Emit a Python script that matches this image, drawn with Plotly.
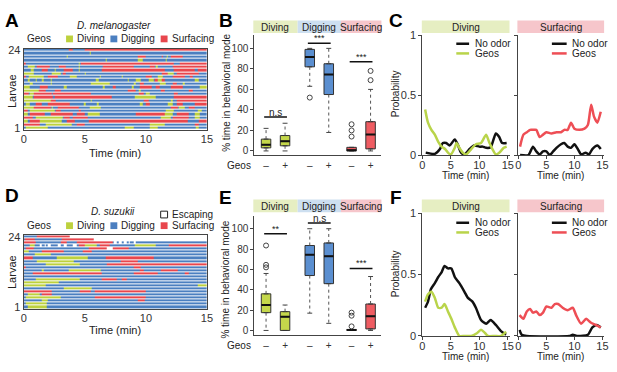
import plotly.graph_objects as go
import numpy as np

W, H = 617, 372
def fx(p): return p / W
def fy(p): return 1 - p / H

FONT = "Arial, Liberation Sans, sans-serif"
TXT = "#222222"
BLUE = "#4b7fc0"; GREEN = "#bdd13d"; RED = "#e8464d"
BOXG = "#c4d74b"; BOXB = "#5b8fd0"; BOXR = "#ef5c62"
HDRG = "#e6eec2"; HDRB = "#cddff0"; HDRR = "#f6c6cb"
LGREEN = "#b9d44a"; LRED = "#ee4e55"

# ---------------- raster data (segments of non-digging modes; rows top=24 to bottom=1)
mel_rows = [
 [("R",3.7,4.0),("R",5.0,15)],
 [("G",5.4,5.5)],
 [("G",3.5,3.6),("R",9.3,10.0),("R",11.3,11.4),("G",11.7,11.8),("R",12.0,13.0)],
 [("G",6.7,6.8),("G",9.3,9.7),("G",11.6,11.7)],
 [("R",0,0.2),("G",4.5,4.6),("R",4.7,12.3),("R",12.8,15)],
 [("G",0.3,0.9),("R",1.1,2.1),("R",2.9,3.4),("G",4.5,4.6),("R",6.5,9.0),("R",10.3,10.7),("G",10.8,11.0),("R",12.2,15)],
 [("G",0.6,0.8),("R",1.5,2.0),("G",2.5,2.6),("R",3.3,4.0),("G",4.5,4.6),("R",6.4,11.5),("R",12.3,14.0),("R",14.2,15)],
 [("G",0,0.8),("G",2.3,3.0),("R",3.2,3.4),("G",5.0,5.1),("R",11.3,12.0),("G",11.8,12.3),("R",12.5,14.3)],
 [("R",0,0.2),("G",0.4,1.6),("R",2.0,2.8),("G",3.8,4.3),("G",6.2,6.3),("G",8.0,8.1),("R",10.0,10.5),("G",11.0,11.4),("R",12.2,13.2),("R",13.6,13.8)],
 [("G",0.3,0.5),("G",1.0,1.1),("G",1.5,1.6),("G",2.2,2.3),("G",5.9,6.1),("G",8.5,8.6),("G",9.2,9.6),("G",10.2,10.6),("R",10.7,11.5),("G",11.0,11.3),("G",14.0,14.3)],
 [("G",0.5,0.7),("G",2.2,2.3),("G",5.5,7.0),("G",9.0,9.2),("R",9.5,9.8),("G",11.1,11.6),("R",12.2,12.5),("G",13.0,13.2)],
 [("G",0,0.5),("R",1.3,2.0),("G",3.3,3.5),("G",6.5,6.6),("R",7.3,7.5),("G",8.8,9.0),("R",9.5,10.5),("R",10.8,11.1),("R",12.0,13.0),("G",14.4,15)],
 [("G",0,1.2),("R",1.2,1.8),("R",2.5,3.0),("R",8.5,9.2),("G",9.4,9.6),("R",11.2,11.5),("R",13.5,13.8)],
 [("R",0,0.4),("G",0.5,0.8),("R",0.8,2.3),("R",2.4,5.5),("R",9.4,9.8),("G",10.0,10.3),("R",12.3,12.6)],
 [("G",0,0.7),("R",0.8,2.4),("R",2.5,7.2),("G",9.1,10.8),("R",12.3,15)],
 [("G",0,2.2),("R",2.2,2.6),("G",5.5,5.6),("R",9.8,10.2),("G",12.0,12.2),("R",12.5,15)],
 [("G",0.2,0.5),("R",1.0,1.5),("R",2.0,3.8),("G",4.9,5.1),("G",6.0,6.1),("G",9.5,9.7),("R",10.0,10.3),("G",11.8,12.2),("R",12.5,13.0),("R",14.0,15)],
 [("G",0,0.8),("R",0.8,2.2),("G",2.3,2.4),("R",2.8,4.5),("G",5.4,6.3),("R",12.0,12.6),("G",12.7,13.2),("R",13.5,14.0)],
 [("R",0,0.3),("G",0.5,2.5),("R",2.6,3.0),("R",4.5,4.7),("G",11.6,12.3),("G",14.2,14.6)],
 [("G",0,0.3),("R",0.5,1.7),("R",2.2,4.0),("R",4.3,5.0),("G",5.2,6.2),("R",9.2,11.5),("G",11.5,12.2),("R",12.5,13.5),("G",14.0,14.4)],
 [("R",0,0.7),("G",1.0,3.2),("R",3.3,3.8),("R",4.0,5.2),("G",11.2,12.0),("R",12.2,13.5),("G",14.0,14.4)],
 [("G",0,0.3),("R",0.5,1.3),("G",1.3,3.1),("R",3.5,4.2),("R",5.3,13.4),("R",14.3,15)],
 [("R",0,1.3),("G",1.8,3.9),("R",4.3,5.0),("G",10.3,11.5),("R",14.0,14.3)],
 [("G",0.2,2.0),("G",8.3,9.0),("G",10.3,11.0),("G",14.1,14.3)],
]
suz_rows = [
 [("R",1.1,3.8),("W",3.8,15)],
 [("R",0.1,0.9),("R",3.1,5.7),("W",5.7,15)],
 [("R",0,1.0),("R",3.0,3.5),("R",4.3,7.3),("W",7.4,7.6),("W",7.8,8.0),("W",8.2,8.4),("W",8.6,8.7),("W",9.0,9.2)],
 [("G",0.5,0.9),("W",1.3,1.5),("W",1.7,1.8),("W",2.0,2.2),("W",2.8,3.0),("W",3.3,3.5),("W",4.0,4.3),("R",4.5,5.0),("G",5.0,6.0),("R",6.2,7.0),("G",9.1,10.8),("R",11.9,15)],
 [("R",0.2,0.8),("R",5.3,6.8),("W",6.8,7.3),("R",7.3,8.6)],
 [("G",0,0.4),("R",1.5,3.3),("R",4.8,5.6)],
 [("G",0.9,2.2)],
 [("R",0,0.7),("G",2.7,5.2),("R",6.7,10.6)],
 [("G",1.1,4.1),("R",7.9,9.3)],
 [("G",1.8,4.6),("R",6.8,15)],
 [("R",0,0.2),("R",9.0,9.6)],
 [("G",1.5,1.6),("G",3.7,6.3),("R",9.5,9.8),("R",11.2,12.6)],
 [("R",0.7,6.4),("R",9.0,11.0),("R",13.2,13.5)],
 [],
 [("G",1.0,4.6),("R",6.4,7.6),("R",8.0,8.4)],
 [("G",0,2.9)],
 [("G",0,1.8),("G",14.2,15)],
 [("G",3.3,5.6)],
 [("R",0,2.3),("R",4.6,5.5),("R",5.8,10.0)],
 [("G",0.3,1.3),("R",1.5,2.3)],
 [("G",0.2,3.0),("R",5.8,10.0)],
 [("G",1.5,2.0),("R",9.3,9.9)],
 [("G",0.2,1.9)],
 [("G",0.3,1.9)],
]
MODE_CODE = {"G": 1, "R": 2, "W": 3}

# ---------------- box-plot data (order: Diving -,+ ; Digging -,+ ; Surfacing -,+)
box_pos = [1, 2, 3.3, 4.3, 5.5, 6.5]
box_ticktext = ["\u2013", "+", "\u2013", "+", "\u2013", "+"]
mel_q1 = [3, 5, 82, 55, 0, 2]
mel_med = [6, 9.5, 91.5, 74.5, 0.6, 16]
mel_q3 = [11.5, 15, 99, 85, 3.5, 28.5]
mel_lo = [0, 0, 63, 18, 0, 0]
mel_hi = [22, 27, 100, 100, 3.5, 60]
mel_out = [[], [], [52], [], [14, 20, 26], [69, 78]]
mel_sig = [(0, 1, 33, "n.s"), (2, 3, 105, "***"), (4, 5, 87, "***")]

suz_q1 = [17.5, 0, 54, 46, 0, 1.5]
suz_med = [25, 13.5, 74.5, 73, 0.5, 14]
suz_q3 = [36, 18.5, 83.5, 86, 1, 26]
suz_lo = [0, 0, 17, 7, 0, 0]
suz_hi = [56, 25, 100, 100, 1, 53]
suz_out = [[62, 64.5, 83.5], [], [], [], [4, 14.5, 17.5], []]
suz_sig = [(0, 1, 95, "**"), (2, 3, 105.5, "n.s"), (4, 5, 61, "***")]

# ---------------- probability time courses
c_div_t_no = [0.6,2.2,3.1,3.6,4.2,4.8,5.7,6.2,6.8,7.4,8.3,9.1,10.0,10.6,11.2,12.0,12.9,13.5,14.0,14.8]
c_div_no = [0.02,0.01,0.05,0.10,0.10,0.08,0.13,0.09,0.02,0.005,0.05,0.08,0.07,0.07,0.06,0.065,0.18,0.15,0.10,0.10]
c_div_t_geo = [0.5,1.0,1.6,2.2,2.8,3.4,4.0,4.5,5.0,5.7,6.0,6.5,7.1,7.7,8.6,9.4,10.3,11.2,11.7,12.3,12.9,13.5,14.3,14.8]
c_div_geo = [0.38,0.27,0.21,0.17,0.11,0.07,0.05,0.02,0.005,0.06,0.10,0.06,0.02,0.005,0.05,0.09,0.10,0.17,0.11,0.05,0.005,0.02,0.06,0.07]
c_sur_t_no = [0.3,1.8,2.6,3.2,3.8,4.4,5.0,5.6,6.2,6.8,7.6,8.2,8.8,9.4,10.0,10.6,11.2,12.0,12.6,13.2,14.1,14.7]
c_sur_no = [0,0,0.07,0.03,0.005,0.03,0.03,0,0.03,0.06,0.09,0.10,0.07,0.06,0.09,0.05,0.005,0.02,0.005,0.05,0.08,0.05]
c_sur_t_geo = [0.3,0.9,1.5,2.1,2.6,3.2,3.8,4.4,5.0,5.9,6.8,7.6,8.2,8.8,9.4,10.0,10.9,11.8,12.4,13.0,13.5,14.1,14.7]
c_sur_geo = [0.07,0.17,0.19,0.21,0.21,0.21,0.15,0.17,0.19,0.18,0.19,0.19,0.21,0.21,0.27,0.22,0.21,0.22,0.25,0.42,0.32,0.27,0.36]

f_div_t_no = [0.5,1.0,1.5,2.2,2.8,3.4,3.9,4.5,5.1,5.7,6.5,7.4,8.0,8.8,9.4,10.3,11.2,12.0,12.9,13.8,14.7]
f_div_no = [0.23,0.28,0.38,0.43,0.48,0.52,0.57,0.55,0.55,0.48,0.43,0.36,0.31,0.28,0.23,0.13,0.10,0.13,0.09,0.04,0.01]
f_div_t_geo = [0.5,1.0,1.6,2.2,2.8,3.4,3.9,4.5,5.1,5.7,6.5,7.4,8.6,9.5,10.3,10.9,11.5,12.7,13.8,14.7]
f_div_geo = [0.28,0.34,0.36,0.31,0.23,0.23,0.26,0.20,0.14,0.07,0,0,0,0.02,0.05,0.03,0,0,0,0.035]
f_sur_t_no = [0.2,0.6,1.5,9.1,9.7,10.6,12.4,13.2,14.0,14.7]
f_sur_no = [0.05,0.01,0,0,0.01,0,0.01,0.07,0.09,0.07]
f_sur_t_geo = [0.2,0.9,1.5,2.1,2.6,3.2,3.8,4.4,5.0,5.9,6.5,7.1,7.9,8.8,9.7,10.3,11.2,12.1,12.9,13.8,14.7]
f_sur_geo = [0.17,0.14,0.20,0.22,0.19,0.20,0.17,0.19,0.24,0.23,0.26,0.26,0.23,0.21,0.23,0.17,0.10,0.14,0.11,0.09,0.07]

time_ticks = [0, 5, 10, 15]

fig = go.Figure()

# ---------------- rasters
BIN = 0.1
centers = np.arange(BIN / 2, 15, BIN)
def raster_z(rows):
    z = []
    for segs in reversed(rows):  # larva 1 first
        r = np.zeros(len(centers))
        for m, a, b in segs:
            r[(centers >= a) & (centers < b)] = MODE_CODE[m]
        z.append(r)
    return np.array(z)

cs = [[0, BLUE], [1/6, BLUE], [1/6, GREEN], [0.5, GREEN], [0.5, RED], [5/6, RED], [5/6, "#ffffff"], [1, "#ffffff"]]
for rows, xa, ya in [(mel_rows, "x", "y"), (suz_rows, "x5", "y5")]:
    fig.add_trace(go.Heatmap(z=raster_z(rows), x=centers, y=list(range(1, 25)), zmin=0, zmax=3,
                             colorscale=cs, showscale=False, ygap=1, hoverinfo="skip",
                             xaxis=xa, yaxis=ya))

# ---------------- box plots
def add_boxes(q1, med, q3, lo, hi, outs, sig, xa, ya):
    fills = [BOXG, BOXG, BOXB, BOXB, BOXR, BOXR]
    wx, wy, cx, cy = [], [], [], []
    for i, p in enumerate(box_pos):
        if hi[i] > q3[i]:
            wx += [p, p, None]; wy += [q3[i], hi[i], None]
            cx += [p - 0.13, p + 0.13, None]; cy += [hi[i], hi[i], None]
        if lo[i] < q1[i]:
            wx += [p, p, None]; wy += [q1[i], lo[i], None]
            cx += [p - 0.13, p + 0.13, None]; cy += [lo[i], lo[i], None]
    fig.add_trace(go.Scatter(x=wx, y=wy, mode="lines", line=dict(color="#555", width=1, dash="dot"),
                             hoverinfo="skip", showlegend=False, xaxis=xa, yaxis=ya))
    fig.add_trace(go.Scatter(x=cx, y=cy, mode="lines", line=dict(color="#444", width=1),
                             hoverinfo="skip", showlegend=False, xaxis=xa, yaxis=ya))
    for i, p in enumerate(box_pos):
        fig.add_trace(go.Box(x=[p], q1=[q1[i]], median=[med[i]], q3=[q3[i]], lowerfence=[q1[i]],
                             upperfence=[q3[i]], fillcolor=fills[i], line=dict(color="#333", width=1),
                             width=0.5, boxpoints=False, showlegend=False, hoverinfo="skip",
                             xaxis=xa, yaxis=ya))
    mx, my = [], []
    for i, p in enumerate(box_pos):
        mx += [p - 0.25, p + 0.25, None]; my += [med[i], med[i], None]
    fig.add_trace(go.Scatter(x=mx, y=my, mode="lines", line=dict(color="#111", width=2),
                             hoverinfo="skip", showlegend=False, xaxis=xa, yaxis=ya))
    ox, oy = [], []
    for i, p in enumerate(box_pos):
        ox += [p] * len(outs[i]); oy += outs[i]
    fig.add_trace(go.Scatter(x=ox, y=oy, mode="markers",
                             marker=dict(symbol="circle-open", size=5, color="#444", line=dict(width=1)),
                             hoverinfo="skip", showlegend=False, xaxis=xa, yaxis=ya))
    sx, sy = [], []
    for a, b, yv, t in sig:
        sx += [box_pos[a] - 0.1, box_pos[b] + 0.1, None]; sy += [yv, yv, None]
        fig.add_annotation(x=(box_pos[a] + box_pos[b]) / 2, y=yv, xref=xa, yref=ya, text=t,
                           showarrow=False, yanchor="bottom",
                           font=dict(size=10 if t == "n.s" else 9, color=TXT, family=FONT),
                           yshift=-3 if t == "n.s" else -2)
    fig.add_trace(go.Scatter(x=sx, y=sy, mode="lines", line=dict(color="#111", width=1.5),
                             hoverinfo="skip", showlegend=False, xaxis=xa, yaxis=ya))

add_boxes(mel_q1, mel_med, mel_q3, mel_lo, mel_hi, mel_out, mel_sig, "x2", "y2")
add_boxes(suz_q1, suz_med, suz_q3, suz_lo, suz_hi, suz_out, suz_sig, "x6", "y6")

# ---------------- probability lines
def line(t, v, color, xa, ya):
    fig.add_trace(go.Scatter(x=t, y=v, mode="lines", line=dict(color=color, width=2.5, shape="spline", smoothing=0.6),
                             hoverinfo="skip", showlegend=False, xaxis=xa, yaxis=ya, cliponaxis=False))

line(c_div_t_no, c_div_no, "#111", "x3", "y3")
line(c_div_t_geo, c_div_geo, LGREEN, "x3", "y3")
line(c_sur_t_no, c_sur_no, "#111", "x4", "y4")
line(c_sur_t_geo, c_sur_geo, LRED, "x4", "y4")
line(f_div_t_no, f_div_no, "#111", "x7", "y7")
line(f_div_t_geo, f_div_geo, LGREEN, "x7", "y7")
line(f_sur_t_no, f_sur_no, "#111", "x8", "y8")
line(f_sur_t_geo, f_sur_geo, LRED, "x8", "y8")

# ---------------- axes
base = dict(showgrid=False, zeroline=False, showline=True, linecolor="#444", linewidth=1,
            ticks="outside", ticklen=3, tickcolor="#444", tickfont=dict(size=10, color="#333", family=FONT))
lay = {}
def ax(name, dom, **kw):
    d = dict(base); d.update(kw); d["domain"] = dom
    lay[name] = d

F11 = dict(size=11, color="#333", family=FONT)
# A / D rasters
ax("xaxis", [fx(21), fx(207)], range=[0, 15], tickvals=time_ticks, anchor="y", mirror=True, ticks="",
   tickfont=F11, ticklabelstandoff=-1)
ax("yaxis", [fy(128), fy(44)], range=[0.5, 24.5], tickvals=[1, 24], ticks="", anchor="x", mirror=True, tickfont=F11)
ax("xaxis5", [fx(21), fx(207)], range=[0, 15], tickvals=time_ticks, anchor="y5", mirror=True, ticks="",
   tickfont=F11, ticklabelstandoff=-1)
ax("yaxis5", [fy(313), fy(237)], range=[0.5, 24.5], tickvals=[1, 24], ticks="", anchor="x5", mirror=True, tickfont=F11)
# B / E boxes
ax("xaxis2", [fx(255), fx(384)], range=[0.38, 7.07], tickvals=box_pos, ticktext=box_ticktext, anchor="y2", ticks="",
   ticklabelstandoff=1)
ax("yaxis2", [fy(154), fy(30)], range=[-4, 113], tickvals=[0, 20, 40, 60, 80, 100], anchor="x2")
ax("xaxis6", [fx(255), fx(384)], range=[0.38, 7.07], tickvals=box_pos, ticktext=box_ticktext, anchor="y6", ticks="",
   ticklabelstandoff=1)
ax("yaxis6", [fy(340), fy(217)], range=[-4.5, 112.5], tickvals=[0, 20, 40, 60, 80, 100], anchor="x6")
# C / F lines
for xn, yn, xd, yd, lab in [("xaxis3", "yaxis3", [425.5, 514], [154, 30], True),
                            ("xaxis4", "yaxis4", [523, 610], [154, 30], False),
                            ("xaxis7", "yaxis7", [425.5, 514], [341, 214], True),
                            ("xaxis8", "yaxis8", [523, 610], [341, 214], False)]:
    ax(xn, [fx(xd[0]), fx(xd[1])], range=[0, 15.3], tickvals=time_ticks, anchor=yn.replace("axis", ""),
       tickfont=F11, ticklabelstandoff=-3)
    ax(yn, [fy(yd[0]), fy(yd[1])], range=[0, 1], tickvals=[0, 0.5, 1], ticktext=["0", "0.5", "1"],
       showticklabels=lab, anchor=xn.replace("axis", ""), tickfont=F11)

fig.update_layout(width=W, height=H, margin=dict(l=0, r=0, t=0, b=0), paper_bgcolor="white",
                  plot_bgcolor="rgba(0,0,0,0)", showlegend=False,
                  font=dict(family=FONT, size=10, color=TXT), **lay)

# ---------------- decorations (text, headers, legends)
def rect(x0, x1, y0, y1, fill, line=None):
    fig.add_shape(type="rect", xref="paper", yref="paper", x0=fx(x0), x1=fx(x1), y0=fy(y1), y1=fy(y0),
                  fillcolor=fill, line=dict(width=1 if line else 0, color=line or fill), layer="above")
def seg(x0, x1, y, color):
    fig.add_shape(type="line", xref="paper", yref="paper", x0=fx(x0), x1=fx(x1), y0=fy(y), y1=fy(y),
                  line=dict(color=color, width=2.5))
def txt(s, x, y, size=10, xanchor="center", angle=0, color=TXT, bold=False, italic=False):
    if bold: s = "<b>" + s + "</b>"
    if italic: s = "<i>" + s + "</i>"
    fig.add_annotation(text=s, x=fx(x), y=fy(y), xref="paper", yref="paper", showarrow=False,
                       xanchor=xanchor, yanchor="middle", textangle=angle,
                       font=dict(size=size, color=color, family=FONT))

# panel letters
for L, x, y in [("A", 9, 15), ("B", 226, 15), ("C", 399, 15), ("D", 9, 196), ("E", 226, 198), ("F", 399, 198)]:
    txt(L, x, y, size=19, bold=True, color="#000000")

txt("D. melanogaster", 113, 20, size=10, italic=True)
def mode_legend(y):
    txt("Geos", 22, y, xanchor="left")
    rect(64, 71, y - 3.5, y + 3.5, GREEN); txt("Diving", 73, y, xanchor="left")
    rect(109, 116, y - 3.5, y + 3.5, BLUE); txt("Digging", 118, y, xanchor="left")
    rect(160, 167, y - 3.5, y + 3.5, RED); txt("Surfacing", 169, y, xanchor="left")
mode_legend(34)
txt("Larvae", 9, 88, size=11, angle=-90)
txt("Time (min)", 114, 152, size=11)
txt("D. suzukii", 112, 212, size=10, italic=True)
rect(160, 167, 212, 219, "#ffffff", line="#222"); txt("Escaping", 169, 215, xanchor="left")
mode_legend(227)
txt("Larvae", 9, 275, size=11, angle=-90)
txt("Time (min)", 114, 335, size=11)

for y0, y1 in [(15, 28), (200, 213)]:
    for a, b, c, s in [(254, 299, HDRG, "Diving"), (299, 343, HDRB, "Digging"), (343, 384, HDRR, "Surfacing")]:
        rect(a, b, y0, y1, c); txt(s, (a + b) / 2, (y0 + y1) / 2 + 0.5, size=10)
txt("% time in behavioral mode", 226, 90, size=10, angle=-90)
txt("% time in behavioral mode", 226, 283, size=10, angle=-90)
txt("Geos", 240, 165, size=10)
txt("Geos", 240, 351, size=10)

for y0, y1 in [(15, 28), (200, 213)]:
    rect(425, 514, y0, y1, HDRG); txt("Diving", 469.5, (y0 + y1) / 2 + 0.5, size=10)
    rect(522, 610, y0, y1, HDRR); txt("Surfacing", 566, (y0 + y1) / 2 + 0.5, size=10)
for yb in [39, 224]:
    seg(460, 473, yb, "#111"); txt("No odor", 477, yb, xanchor="left")
    seg(460, 473, yb + 10, LGREEN); txt("Geos", 477, yb + 10, xanchor="left")
    seg(557, 572, yb, "#111"); txt("No odor", 575, yb, xanchor="left")
    seg(557, 572, yb + 10, LRED); txt("Geos", 575, yb + 10, xanchor="left")
txt("Probability", 398, 91, size=10, angle=-90)
txt("Probability", 398, 277, size=10, angle=-90)
for yt in [175, 362]:
    txt("Time (min)", 469, yt, size=10)
    txt("Time (min)", 566, yt, size=10)

fig.write_html("out.html", config={"displayModeBar": False},
               post_script="document.body.style.margin='0px';")
